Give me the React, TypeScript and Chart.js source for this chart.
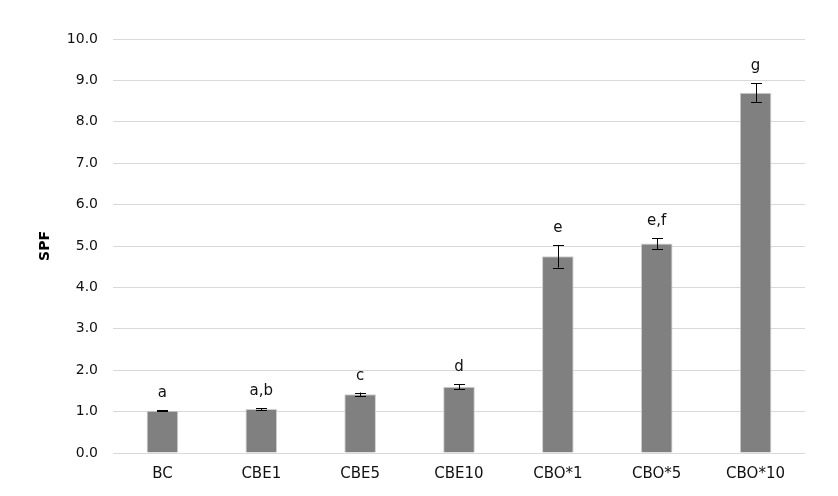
import React, { useEffect, useRef } from "react";
import { Chart, registerables } from "chart.js";

Chart.register(...registerables);

const categories = ["BC", "CBE1", "CBE5", "CBE10", "CBO*1", "CBO*5", "CBO*10"];
const spfValues = [1.02, 1.06, 1.42, 1.6, 4.75, 5.06, 8.7];
const spfErrors = [0.01, 0.02, 0.04, 0.06, 0.27, 0.13, 0.23];
const groupLetters = ["a", "a,b", "c", "d", "e", "e,f", "g"];
const yTicks = [0, 1, 2, 3, 4, 5, 6, 7, 8, 9, 10];

const FONT = "'DejaVu Sans', Verdana, sans-serif";

const overlayPlugin = {
  id: "overlay",
  afterDatasetsDraw(chart: any) {
    const ctx = chart.ctx;
    const meta = chart.getDatasetMeta(0);
    const y = chart.scales.y;
    ctx.save();
    meta.data.forEach((bar: any, i: number) => {
      const x = bar.x;
      const v = spfValues[i];
      const e = spfErrors[i];
      const yt = y.getPixelForValue(v + e);
      const yb = y.getPixelForValue(v - e);
      ctx.strokeStyle = "#000";
      ctx.lineWidth = 1;
      ctx.beginPath();
      ctx.moveTo(Math.round(x) + 0.5, yt);
      ctx.lineTo(Math.round(x) + 0.5, yb);
      ctx.moveTo(Math.round(x) - 5, Math.round(yt) + 0.5);
      ctx.lineTo(Math.round(x) + 6, Math.round(yt) + 0.5);
      ctx.moveTo(Math.round(x) - 5, Math.round(yb) + 0.5);
      ctx.lineTo(Math.round(x) + 6, Math.round(yb) + 0.5);
      ctx.stroke();
      ctx.fillStyle = "#111";
      ctx.font = `15px ${FONT}`;
      ctx.textAlign = "center";
      ctx.textBaseline = "alphabetic";
      ctx.fillText(groupLetters[i], x, yt - 13);
    });
    // axis title
    ctx.translate(45, (chart.chartArea.top + chart.chartArea.bottom) / 2);
    ctx.rotate(-Math.PI / 2);
    ctx.font = `bold 14px ${FONT}`;
    ctx.fillStyle = "#000";
    ctx.textAlign = "center";
    ctx.textBaseline = "middle";
    ctx.fillText("SPF", 0, 0);
    ctx.restore();
  },
};

export default function App() {
  const ref = useRef<HTMLCanvasElement>(null);
  useEffect(() => {
    if (!ref.current) return;
    const chart = new Chart(ref.current, {
      type: "bar",
      data: {
        labels: categories,
        datasets: [
          {
            data: spfValues,
            backgroundColor: "#808080",
            borderColor: "#d0d0d0",
            borderWidth: 1,
            barPercentage: 0.32,
            categoryPercentage: 1,
          },
        ],
      },
      options: {
        animation: false,
        responsive: false,
        maintainAspectRatio: false,
        layout: { padding: { top: 39, right: 33, left: 0, bottom: 0 } },
        plugins: {
          legend: { display: false },
          tooltip: { enabled: false },
        },
        scales: {
          x: {
            grid: { display: false, drawTicks: false },
            border: { display: false },
            ticks: {
              color: "#111",
              font: { family: FONT, size: 15 },
              padding: 12,
              maxRotation: 0,
            },
            afterFit(scale: any) {
              scale.height = 43;
            },
          },
          y: {
            min: 0,
            max: 10,
            afterBuildTicks(scale: any) {
              scale.ticks = yTicks.map((v) => ({ value: v }));
            },
            grid: { color: "#d9d9d9", drawTicks: false },
            border: { display: false },
            ticks: {
              color: "#111",
              font: { family: FONT, size: 14 },
              padding: 15,
              callback: (v: any) => Number(v).toFixed(1),
            },
            afterFit(scale: any) {
              scale.width = 113;
            },
          },
        },
      },
      plugins: [overlayPlugin],
    });
    return () => chart.destroy();
  }, []);
  return (
    <div style={{ position: "fixed", left: 0, top: 0, width: 838, height: 496, background: "#fff" }}>
      <canvas ref={ref} width={838} height={496} />
    </div>
  );
}
